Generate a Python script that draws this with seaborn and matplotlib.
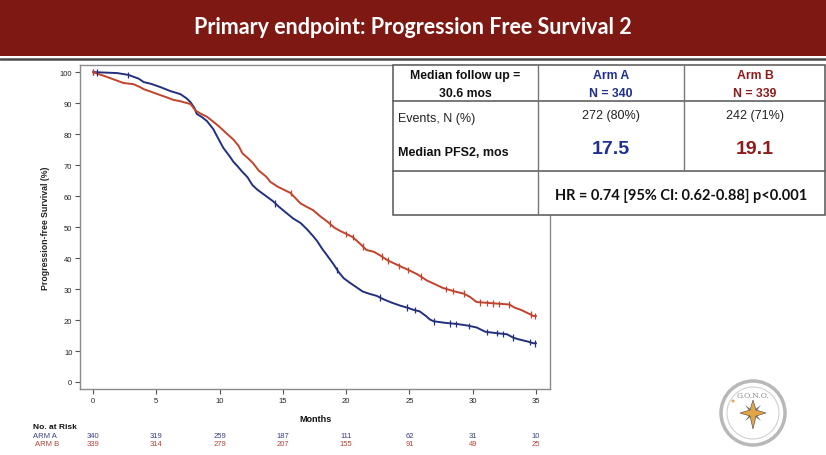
import numpy as np
import pandas as pd
import matplotlib
matplotlib.use("Agg")
import matplotlib.pyplot as plt
import seaborn as sns
from matplotlib.patches import Rectangle, Ellipse, Polygon
from matplotlib.lines import Line2D
from matplotlib.transforms import blended_transform_factory

# ---------------- data ----------------
arm_a_t = [0, 1.9, 2.8, 3.6, 4.0, 4.6, 5.3, 6.1, 6.9, 7.4, 7.7, 8.0, 8.2, 8.6, 9.0,
           9.5, 9.9, 10.3, 10.8, 11.1, 11.4, 11.8, 12.2, 12.6, 13.0, 13.5, 14.2, 14.7,
           15.2, 15.8, 16.4, 16.9, 17.4, 17.7, 18.1, 18.5, 19.0, 19.4, 19.8, 20.3, 20.8,
           21.3, 21.8, 22.4, 23.0, 23.6, 24.3, 24.9, 25.3, 25.8, 26.3, 26.6, 26.9, 27.8,
           28.8, 29.6, 30.3, 31.0, 31.8, 32.7, 33.2, 33.6, 34.3, 34.8, 35.0]
arm_a_s = [100, 99.7, 99.1, 97.9, 96.8, 96.2, 95.2, 93.9, 92.9, 91.5, 90.3, 88.5, 86.5,
           85.5, 84.2, 81.6, 78.5, 75.5, 72.8, 71.0, 69.7, 67.8, 66.1, 63.5, 62.0, 60.5,
           58.4, 56.5, 54.8, 52.8, 51.3, 49.3, 47.0, 45.5, 43.0, 40.8, 38.0, 35.5, 33.5,
           32.0, 30.6, 29.2, 28.5, 27.8, 26.6, 25.6, 24.6, 23.9, 23.3, 22.8, 21.3, 20.2,
           19.6, 19.1, 18.7, 18.2, 17.6, 16.2, 15.8, 15.4, 14.3, 13.8, 13.1, 12.5, 12.5]
arm_b_t = [0, 0.5, 1.0, 1.6, 2.4, 3.2, 3.7, 4.0, 4.7, 5.3, 5.8, 6.3, 6.9, 7.7, 8.1, 8.5,
           9.0, 9.5, 10.0, 10.5, 11.1, 11.5, 11.8, 12.3, 12.6, 13.1, 13.7, 14.0, 14.6,
           15.1, 15.6, 16.4, 16.9, 17.4, 18.0, 18.5, 19.1, 19.6, 20.5, 21.0, 21.6, 22.2,
           22.7, 23.3, 24.3, 25.0, 25.6, 26.4, 27.0, 27.6, 28.5, 29.3, 29.8, 30.3, 32.9,
           33.3, 33.8, 34.3, 34.8, 35.0]
arm_b_s = [100, 99.3, 98.6, 97.7, 96.5, 96.1, 95.2, 94.5, 93.5, 92.6, 91.9, 91.1, 90.6,
           89.7, 87.6, 86.6, 85.6, 84.0, 82.3, 80.4, 78.2, 76.2, 73.8, 72.0, 70.8, 68.2,
           66.2, 64.6, 63.0, 62.0, 61.0, 57.6, 56.5, 55.4, 53.3, 51.8, 49.7, 48.6, 46.8,
           45.0, 42.6, 42.0, 40.8, 39.2, 37.3, 36.0, 34.8, 32.7, 31.6, 30.4, 29.3, 28.5,
           27.4, 25.8, 25.0, 24.0, 23.3, 22.3, 21.3, 21.3]
arm_a_cens = [0.0, 0.3, 2.8, 14.4, 19.3, 22.7, 24.8, 25.4, 26.9, 28.2, 28.7, 29.7,
              31.1, 31.9, 32.4, 33.2, 34.5, 34.9]
arm_b_cens = [0.0, 15.6, 18.7, 20.0, 20.5, 21.3, 22.8, 23.3, 24.2, 24.9, 25.9, 27.9,
              28.4, 29.3, 30.6, 31.1, 31.6, 32.1, 32.9, 34.6, 34.9]
arm_names = ["Arm A", "Arm B"]
risk_times = [0, 5, 10, 15, 20, 25, 30, 35]
risk_a = [340, 319, 259, 187, 111, 62, 31, 10]
risk_b = [339, 314, 279, 207, 155, 91, 49, 25]

BLUE = "#23307E"
RED = "#C2432C"
TXT_BLUE = "#1F2F8F"
TXT_RED = "#8E1B1B"
BAR = "#7D1912"

W, H = 826, 456
sns.set_style("white")
plt.rcParams['font.family'] = ['Liberation Sans', 'DejaVu Sans']

fig = plt.figure(figsize=(W / 100, H / 100), dpi=100)


def P(x, y):
    return (x / W, 1 - y / H)


# ---------------- axes ----------------
ax_l, ax_r, ax_t, ax_b = 80, 550, 66, 390
ax = fig.add_axes([ax_l / W, 1 - ax_b / H, (ax_r - ax_l) / W, (ax_b - ax_t) / H])

curves = pd.concat([
    pd.DataFrame({"t": arm_a_t, "s": arm_a_s, "arm": arm_names[0]}),
    pd.DataFrame({"t": arm_b_t, "s": arm_b_s, "arm": arm_names[1]}),
], ignore_index=True)


def curve_val(ts, ss, c):
    return np.interp(c, ts, ss)


cens = pd.concat([
    pd.DataFrame({"t": arm_a_cens, "s": curve_val(arm_a_t, arm_a_s, arm_a_cens), "arm": arm_names[0]}),
    pd.DataFrame({"t": arm_b_cens, "s": curve_val(arm_b_t, arm_b_s, arm_b_cens), "arm": arm_names[1]}),
], ignore_index=True)

pal = {arm_names[0]: BLUE, arm_names[1]: RED}
sns.lineplot(data=curves, x="t", y="s", hue="arm", palette=pal, estimator=None,
             linewidth=1.4, legend=False, ax=ax)
sns.scatterplot(data=cens, x="t", y="s", hue="arm", palette=pal, marker="|", s=22,
                linewidth=0.9, legend=False, ax=ax, zorder=3)

ax.set_xlim(-1.03, 36.1)
ax.set_ylim(-2.26, 102.3)
ax.set_xticks(risk_times)
ax.set_yticks(range(0, 101, 10))
ax.tick_params(axis="both", which="both", direction="out", length=3.5, width=0.8,
               color="#555555", labelsize=5.5, labelcolor="#222222", pad=2,
               bottom=True, left=True)
for sp in ax.spines.values():
    sp.set_color("#8a8a8a")
    sp.set_linewidth(1.0)
ax.set_xlabel("Months", fontsize=6.5, fontweight="bold", color="#111111")
ax.set_ylabel("Progression-free Survival (%)", fontsize=6.3, fontweight="bold", color="#222222")
ax.xaxis.set_label_coords(0.5, (ax_b - 415) / (ax_b - ax_t))
ax.yaxis.set_label_coords((50 - ax_l) / (ax_r - ax_l), 0.5)

# ---------------- numbers at risk ----------------
tr = blended_transform_factory(ax.transData, fig.transFigure)
fig.text(*P(33, 428), "No. at Risk", fontsize=6, fontweight="bold", color="#111111", va="center")
fig.text(*P(33, 436.5), "ARM A", fontsize=5.5, color="#3a3f85", va="center")
fig.text(*P(35, 444.5), "ARM B", fontsize=5.5, color="#b0443a", va="center")
for t, a, b in zip(risk_times, risk_a, risk_b):
    ax.text(t, 1 - 436.5 / H, str(a), transform=tr, fontsize=5.5, color="#3a3f85",
            ha="center", va="center")
    ax.text(t, 1 - 444.5 / H, str(b), transform=tr, fontsize=5.5, color="#b0443a",
            ha="center", va="center")

# ---------------- title bar ----------------
fig.add_artist(Rectangle(P(0, 57), 1, 57 / H, transform=fig.transFigure,
                         facecolor=BAR, edgecolor="none", zorder=1))
fig.add_artist(Line2D([0, 1], [1 - 60 / H] * 2, transform=fig.transFigure,
                      color="#4a4a4a", linewidth=1.8, zorder=2))
fig.text(0.5, 1 - 28 / H, "Primary endpoint: Progression Free Survival 2",
         fontsize=15.5, fontweight="bold", color="white", ha="center", va="center",
         family=["Lato", "DejaVu Sans"], zorder=5)

# ---------------- summary table ----------------
tl, tr_, tt, tb = 393, 825, 66, 216
fig.add_artist(Rectangle(P(tl, tb), (tr_ - tl) / W, (tb - tt) / H, transform=fig.transFigure,
                         facecolor="white", edgecolor="#555555", linewidth=1.1, zorder=4))


def hline(y, x0, x1):
    fig.add_artist(Line2D([x0 / W, x1 / W], [1 - y / H] * 2, transform=fig.transFigure,
                          color="#555555", linewidth=1.1, zorder=5))


def vline(x, y0, y1):
    fig.add_artist(Line2D([x / W] * 2, [1 - y0 / H, 1 - y1 / H], transform=fig.transFigure,
                          color="#777777", linewidth=1.0, zorder=5))


hline(102, tl, tr_)
hline(172, tl, tr_)
vline(538, tt, tb)
vline(684, tt, 172)


def T(x, y, s, **kw):
    base = dict(fontsize=9, ha="center", va="center", color="#111111", zorder=6)
    base.update(kw)
    fig.text(*P(x, y), s, **base)


T(465, 76, "Median follow up =", fontweight="bold", fontsize=8.8)
T(465, 94, "30.6 mos", fontweight="bold", fontsize=8.8)
T(611, 76, "Arm A", fontweight="bold", color=TXT_BLUE, fontsize=8.8)
T(611, 94, "N = 340", fontweight="bold", color=TXT_BLUE, fontsize=8.8)
T(755, 76, "Arm B", fontweight="bold", color=TXT_RED, fontsize=8.8)
T(755, 94, "N = 339", fontweight="bold", color=TXT_RED, fontsize=8.8)
T(398, 119, "Events, N (%)", ha="left", color="#222222")
T(611, 116, "272 (80%)", color="#222222")
T(755, 116, "242 (71%)", color="#222222")
T(398, 153, "Median PFS2, mos", ha="left", fontweight="bold")
T(611, 150, "17.5", fontsize=14, fontweight="bold", color=TXT_BLUE)
T(755, 150, "19.1", fontsize=14, fontweight="bold", color=TXT_RED)
T(681, 196, "HR = 0.74 [95% CI: 0.62-0.88] p<0.001", fontsize=10.5, fontweight="bold",
  family=["Lato", "DejaVu Sans"])

# ---------------- logo ----------------
cx, cy, r = 753, 414, 32
fig.add_artist(Ellipse(P(cx, cy), 2 * r / W, 2 * r / H, transform=fig.transFigure,
                       facecolor="white", edgecolor="#b8b8b8", linewidth=2.5, zorder=4))
fig.add_artist(Ellipse(P(cx, cy), 2 * (r - 6) / W, 2 * (r - 6) / H, transform=fig.transFigure,
                       facecolor="none", edgecolor="#d0d0d0", linewidth=0.8, zorder=4))
T(cx, cy - 18, "G.O.N.O.", fontsize=5.5, color="#8a8a8a", family=["DejaVu Serif"])
star_big = [(cx, cy - 13), (cx + 3, cy - 3), (cx + 13, cy), (cx + 3, cy + 3),
            (cx, cy + 16), (cx - 3, cy + 3), (cx - 13, cy), (cx - 3, cy - 3)]
star_small = [(cx + 8, cy - 8), (cx + 2, cy), (cx + 8, cy + 8), (cx, cy + 2),
              (cx - 8, cy + 8), (cx - 2, cy), (cx - 8, cy - 8), (cx, cy - 2)]
fig.add_artist(Polygon([P(x, y) for x, y in star_small], closed=True, transform=fig.transFigure,
                       facecolor="#6a6a6a", edgecolor="none", zorder=5))
fig.add_artist(Polygon([P(x, y) for x, y in star_big], closed=True, transform=fig.transFigure,
                       facecolor="#E3A443", edgecolor="#444444", linewidth=0.4, zorder=5))
fig.add_artist(Ellipse(P(cx - 20, cy - 12), 3 / W, 3 / H, transform=fig.transFigure,
                       facecolor="#E3A443", edgecolor="none", zorder=5))

fig.savefig("out.png", dpi=100)
